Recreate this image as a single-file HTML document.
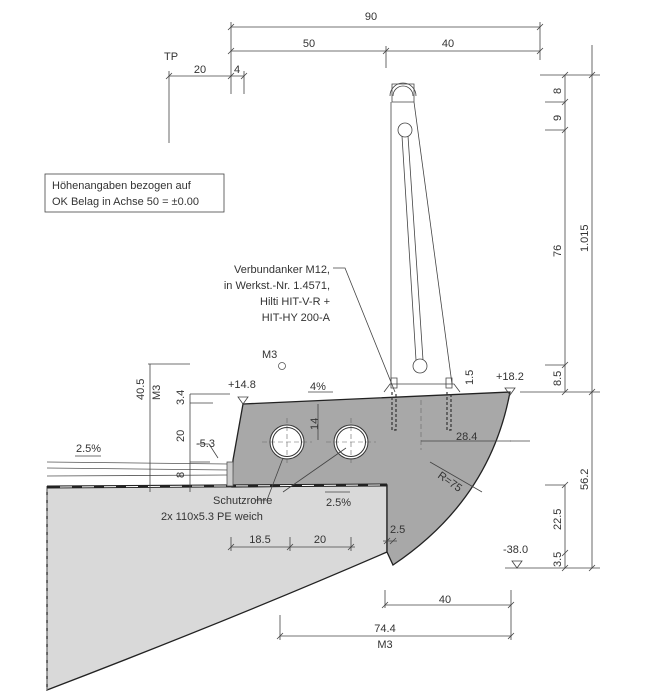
<!DOCTYPE html>
<html><head><meta charset="utf-8"><style>
html,body{margin:0;padding:0;background:#fff}
svg{display:block}
text{font-family:"Liberation Sans",sans-serif;font-size:11px;fill:#333}
</style></head><body>
<svg width="650" height="700" viewBox="0 0 650 700" xmlns="http://www.w3.org/2000/svg">
<g stroke="#444" stroke-width="0.8" fill="none">
<line x1="231" y1="27" x2="540" y2="27"/><line x1="231" y1="51" x2="540" y2="51"/>
<line x1="231" y1="22" x2="231" y2="94"/><line x1="386" y1="46" x2="386" y2="68"/><line x1="540" y1="22" x2="540" y2="60"/>
<line x1="169" y1="76" x2="244" y2="76"/><line x1="169" y1="71" x2="169" y2="143"/><line x1="244" y1="71" x2="244" y2="94"/>
<path d="M228 30l6-6M228 54l6-6M383 54l6-6M537 30l6-6M537 54l6-6M166 79l6-6M228 79l6-6M241 79l6-6"/>
<rect x="45" y="174" width="179" height="38"/>
<path d="M391 102V384M414 102L452 384M392 84h22v18h-22z"/>
<path d="M390 96a13 13 0 0 1 26 0M393 96a10 10 0 0 1 20 0"/>
<circle cx="405" cy="130" r="7"/><circle cx="420" cy="366" r="7"/>
<path d="M402 136L416 360M408 136L423 360"/>
<path d="M384 392l6-8h64l6 8M390 384h64"/>
<path d="M391 378v10h6v-10zM446 378v10h6v-10z"/>
<line x1="565" y1="75" x2="565" y2="392"/><line x1="592" y1="45" x2="592" y2="568"/>
<line x1="545" y1="102" x2="565" y2="102"/><line x1="545" y1="130" x2="565" y2="130"/><line x1="545" y1="365" x2="565" y2="365"/>
<line x1="520" y1="392" x2="600" y2="392"/><line x1="540" y1="75" x2="600" y2="75"/>
<line x1="565" y1="485" x2="565" y2="568"/><line x1="545" y1="485" x2="565" y2="485"/><line x1="505" y1="568" x2="600" y2="568"/>
<line x1="510" y1="441" x2="530" y2="441"/>
<path d="M562 78l6-6M562 105l6-6M562 133l6-6M562 368l6-6M562 395l6-6M589 78l6-6M589 395l6-6M589 571l6-6M562 488l6-6M562 556l6-6M562 571l6-6"/>
<line x1="385" y1="605" x2="511" y2="605"/><line x1="385" y1="590" x2="385" y2="608"/><line x1="511" y1="590" x2="511" y2="640"/>
<line x1="280" y1="636" x2="511" y2="636"/><line x1="280" y1="615" x2="280" y2="640"/>
<path d="M382 608l6-6M508 608l6-6M277 639l6-6M508 639l6-6"/>
</g>
<path d="M47 487L387 485V552Q230 620 47 690Z" fill="#d9d9d9" stroke="#222" stroke-width="1.3"/>
<line x1="47" y1="487" x2="47" y2="690" stroke="#888" stroke-dasharray="5,3"/>
<path d="M243 404L510 392Q490 500 393 565L387 552V485L232 487L233 460Z" fill="#a8a8a8" stroke="#222" stroke-width="1.3"/>
<line x1="47" y1="487" x2="387" y2="485" stroke="#222" stroke-width="3"/>
<line x1="60" y1="487" x2="380" y2="485" stroke="#fff" stroke-width="1" stroke-dasharray="12,10"/>
<g stroke="#555" stroke-width="0.8" fill="none">
<path d="M47 462L228 464M47 476L228 475M47 468L228 470"/>
<rect x="227" y="462" width="6" height="24" fill="#ccc"/>
<circle cx="282" cy="366" r="3.5"/>
</g>
<g fill="#fff" stroke="#333" stroke-width="1">
<circle cx="287" cy="442" r="17"/><circle cx="351" cy="442" r="17"/>
<circle cx="287" cy="442" r="14.5" fill="none"/><circle cx="351" cy="442" r="14.5" fill="none"/>
</g>
<g stroke="#666" stroke-width="0.6" stroke-dasharray="5,3" fill="none">
<path d="M262 442h50M287 418v48M326 442h50M351 418v48M421 400v50"/>
</g>
<g stroke="#333" stroke-width="1.2" stroke-dasharray="3,2" fill="none">
<path d="M392 392v38h4v-38M447 392v38h4v-38"/>
</g>
<g stroke="#444" stroke-width="0.8" fill="none">
<path d="M333 268h12L395 392"/>
<path d="M318 404v36M421 441h90M148 364h42M150 364v128M190 394v98M190 403h23M190 394h40M190 462h20M197 444h12l9 14"/>
<path d="M75 456h26M308 392h25M325 492h25M430 462l52 30"/>
<path d="M255 500h12l16-42M283 492l63-44"/>
<path d="M238 397h10l-5 7zM505 388h10l-5 7zM512 561h10l-5 7z"/>
<line x1="231" y1="547" x2="355" y2="547"/><path d="M231 537v14M290 537v14M351 537v14M228 550l6-6M287 550l6-6M348 550l6-6"/>
<path d="M383 541h14M384 544l6-6M390 544l6-6"/>
</g>
<text x="371" y="20" text-anchor="middle">90</text>
<text x="309" y="47" text-anchor="middle">50</text>
<text x="448" y="47" text-anchor="middle">40</text>
<text x="171" y="60" text-anchor="middle">TP</text>
<text x="200" y="73" text-anchor="middle">20</text>
<text x="237" y="73" text-anchor="middle">4</text>
<text x="52" y="189">Höhenangaben bezogen auf</text>
<text x="52" y="205">OK Belag in Achse 50 = ±0.00</text>
<g text-anchor="end">
<text x="330" y="273">Verbundanker M12,</text>
<text x="330" y="289">in Werkst.-Nr. 1.4571,</text>
<text x="330" y="305">Hilti HIT-V-R +</text>
<text x="330" y="321">HIT-HY 200-A</text>
</g>
<text x="262" y="358">M3</text>
<text x="228" y="388">+14.8</text>
<text x="496" y="380">+18.2</text>
<text x="310" y="390">4%</text>
<text x="76" y="452">2.5%</text>
<text x="196" y="447">-5.3</text>
<text x="213" y="504">Schutzrohre</text>
<text x="161" y="520">2x 110x5.3 PE weich</text>
<text x="326" y="506">2.5%</text>
<text x="260" y="543" text-anchor="middle">18.5</text>
<text x="320" y="543" text-anchor="middle">20</text>
<text x="390" y="533">2.5</text>
<text x="445" y="603" text-anchor="middle">40</text>
<text x="385" y="632" text-anchor="middle">74.4</text>
<text x="385" y="648" text-anchor="middle">M3</text>
<text x="456" y="440">28.4</text>
<text x="503" y="553">-38.0</text>
<text transform="translate(437,477) rotate(35)">R=75</text>
<g>
<text transform="translate(144,400) rotate(-90)">40.5</text>
<text transform="translate(160,400) rotate(-90)">M3</text>
<text transform="translate(184,405) rotate(-90)">3.4</text>
<text transform="translate(184,442) rotate(-90)">20</text>
<text transform="translate(184,478) rotate(-90)">8</text>
<text transform="translate(318,430) rotate(-90)">14</text>
<text transform="translate(473,385) rotate(-90)">1.5</text>
<text transform="translate(561,94) rotate(-90)">8</text>
<text transform="translate(561,121) rotate(-90)">9</text>
<text transform="translate(561,257) rotate(-90)">76</text>
<text transform="translate(588,252) rotate(-90)">1.015</text>
<text transform="translate(561,386) rotate(-90)">8.5</text>
<text transform="translate(561,530) rotate(-90)">22.5</text>
<text transform="translate(561,567) rotate(-90)">3.5</text>
<text transform="translate(588,490) rotate(-90)">56.2</text>
</g>
</svg>
</body></html>
